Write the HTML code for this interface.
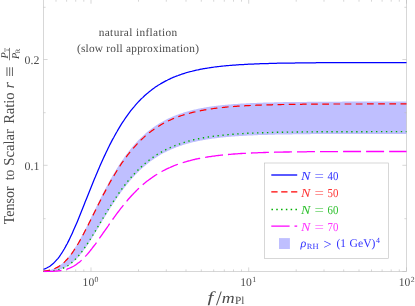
<!DOCTYPE html>
<html><head><meta charset="utf-8"><title>natural inflation</title>
<style>
html,body{margin:0;padding:0;background:#fff;}
svg{display:block;}
text{font-family:"Liberation Serif",serif;text-rendering:geometricPrecision;}
.i{font-style:italic;}
</style></head><body>
<svg width="415" height="306" viewBox="0 0 415 306">
<rect x="0" y="0" width="415" height="306" fill="#fff"/>
<defs><clipPath id="c"><rect x="43.0" y="-0.4" width="364.2" height="272.7"/></clipPath></defs>
<g clip-path="url(#c)">
<path d="M43.5 271.0 L44.4 270.9 L45.3 270.8 L46.2 270.7 L47.1 270.5 L48.0 270.4 L49.0 270.2 L49.9 269.9 L50.8 269.7 L51.7 269.4 L52.6 269.1 L53.5 268.8 L54.4 268.4 L55.3 268.0 L56.2 267.5 L57.1 267.1 L58.1 266.5 L59.0 265.9 L59.9 265.3 L60.8 264.6 L61.7 263.9 L62.6 263.2 L63.5 262.3 L64.4 261.5 L65.3 260.5 L66.2 259.6 L67.2 258.5 L68.1 257.5 L69.0 256.3 L69.9 255.2 L70.8 253.9 L71.7 252.7 L72.6 251.4 L73.5 250.0 L74.4 248.6 L75.3 247.1 L76.3 245.7 L77.2 244.1 L78.1 242.6 L79.0 241.0 L79.9 239.3 L80.8 237.7 L81.7 236.0 L82.6 234.3 L83.5 232.5 L84.4 230.8 L85.3 229.0 L86.3 227.2 L87.2 225.4 L88.1 223.5 L89.0 221.7 L89.9 219.9 L90.8 218.0 L91.7 216.1 L92.6 214.3 L93.5 212.4 L94.4 210.6 L95.4 208.7 L96.3 206.8 L97.2 205.0 L98.1 203.2 L99.0 201.3 L99.9 199.5 L100.8 197.7 L101.7 195.9 L102.6 194.1 L103.5 192.3 L104.5 190.6 L105.4 188.8 L106.3 187.1 L107.2 185.4 L108.1 183.7 L109.0 182.1 L109.9 180.4 L110.8 178.8 L111.7 177.2 L112.6 175.6 L113.6 174.0 L114.5 172.5 L115.4 171.0 L116.3 169.5 L117.2 168.0 L118.1 166.6 L119.0 165.1 L119.9 163.7 L120.8 162.4 L121.7 161.0 L122.7 159.7 L123.6 158.4 L124.5 157.1 L125.4 155.8 L126.3 154.6 L127.2 153.4 L128.1 152.2 L129.0 151.0 L129.9 149.9 L130.8 148.8 L131.7 147.7 L132.7 146.6 L133.6 145.5 L134.5 144.5 L135.4 143.5 L136.3 142.5 L137.2 141.5 L138.1 140.5 L139.0 139.6 L139.9 138.7 L140.8 137.8 L141.8 136.9 L142.7 136.1 L143.6 135.2 L144.5 134.4 L145.4 133.6 L146.3 132.8 L147.2 132.1 L148.1 131.3 L149.0 130.6 L149.9 129.9 L150.9 129.2 L151.8 128.5 L152.7 127.8 L153.6 127.2 L154.5 126.6 L155.4 125.9 L156.3 125.3 L157.2 124.7 L158.1 124.2 L159.0 123.6 L160.0 123.0 L160.9 122.5 L161.8 122.0 L162.7 121.5 L163.6 121.0 L164.5 120.5 L165.4 120.0 L166.3 119.5 L167.2 119.1 L168.1 118.6 L169.0 118.2 L170.0 117.8 L170.9 117.4 L171.8 117.0 L172.7 116.6 L173.6 116.2 L174.5 115.8 L175.4 115.5 L176.3 115.1 L177.2 114.8 L178.1 114.4 L179.1 114.1 L180.0 113.8 L180.9 113.5 L181.8 113.2 L182.7 112.9 L183.6 112.6 L184.5 112.3 L185.4 112.0 L186.3 111.7 L187.2 111.5 L188.2 111.2 L189.1 111.0 L190.0 110.7 L190.9 110.5 L191.8 110.3 L192.7 110.0 L193.6 109.8 L194.5 109.6 L195.4 109.4 L196.3 109.2 L197.3 109.0 L198.2 108.8 L199.1 108.6 L200.0 108.4 L200.9 108.3 L201.8 108.1 L202.7 107.9 L203.6 107.7 L204.5 107.6 L205.4 107.4 L206.3 107.3 L207.3 107.1 L208.2 107.0 L209.1 106.8 L210.0 106.7 L210.9 106.6 L211.8 106.4 L212.7 106.3 L213.6 106.2 L214.5 106.1 L215.4 106.0 L216.4 105.8 L217.3 105.7 L218.2 105.6 L219.1 105.5 L220.0 105.4 L220.9 105.3 L221.8 105.2 L222.7 105.1 L223.6 105.0 L224.5 104.9 L225.5 104.8 L226.4 104.8 L227.3 104.7 L228.2 104.6 L229.1 104.5 L230.0 104.4 L230.9 104.4 L231.8 104.3 L232.7 104.2 L233.6 104.1 L234.6 104.1 L235.5 104.0 L236.4 103.9 L237.3 103.9 L238.2 103.8 L239.1 103.8 L240.0 103.7 L240.9 103.6 L241.8 103.6 L242.7 103.5 L243.7 103.5 L244.6 103.4 L245.5 103.4 L246.4 103.3 L247.3 103.3 L248.2 103.2 L249.1 103.2 L250.0 103.2 L250.9 103.1 L251.8 103.1 L252.7 103.0 L253.7 103.0 L254.6 103.0 L255.5 102.9 L256.4 102.9 L257.3 102.8 L258.2 102.8 L259.1 102.8 L260.0 102.7 L260.9 102.7 L261.8 102.7 L262.8 102.7 L263.7 102.6 L264.6 102.6 L265.5 102.6 L266.4 102.5 L267.3 102.5 L268.2 102.5 L269.1 102.5 L270.0 102.4 L270.9 102.4 L271.9 102.4 L272.8 102.4 L273.7 102.4 L274.6 102.3 L275.5 102.3 L276.4 102.3 L277.3 102.3 L278.2 102.3 L279.1 102.2 L280.0 102.2 L281.0 102.2 L281.9 102.2 L282.8 102.2 L283.7 102.1 L284.6 102.1 L285.5 102.1 L286.4 102.1 L287.3 102.1 L288.2 102.1 L289.1 102.1 L290.0 102.0 L291.0 102.0 L291.9 102.0 L292.8 102.0 L293.7 102.0 L294.6 102.0 L295.5 102.0 L296.4 102.0 L297.3 101.9 L298.2 101.9 L299.1 101.9 L300.1 101.9 L301.0 101.9 L301.9 101.9 L302.8 101.9 L303.7 101.9 L304.6 101.9 L305.5 101.9 L306.4 101.9 L307.3 101.8 L308.2 101.8 L309.2 101.8 L310.1 101.8 L311.0 101.8 L311.9 101.8 L312.8 101.8 L313.7 101.8 L314.6 101.8 L315.5 101.8 L316.4 101.8 L317.3 101.8 L318.3 101.8 L319.2 101.8 L320.1 101.7 L321.0 101.7 L321.9 101.7 L322.8 101.7 L323.7 101.7 L324.6 101.7 L325.5 101.7 L326.4 101.7 L327.3 101.7 L328.3 101.7 L329.2 101.7 L330.1 101.7 L331.0 101.7 L331.9 101.7 L332.8 101.7 L333.7 101.7 L334.6 101.7 L335.5 101.7 L336.4 101.7 L337.4 101.7 L338.3 101.7 L339.2 101.7 L340.1 101.7 L341.0 101.7 L341.9 101.7 L342.8 101.6 L343.7 101.6 L344.6 101.6 L345.5 101.6 L346.5 101.6 L347.4 101.6 L348.3 101.6 L349.2 101.6 L350.1 101.6 L351.0 101.6 L351.9 101.6 L352.8 101.6 L353.7 101.6 L354.6 101.6 L355.6 101.6 L356.5 101.6 L357.4 101.6 L358.3 101.6 L359.2 101.6 L360.1 101.6 L361.0 101.6 L361.9 101.6 L362.8 101.6 L363.7 101.6 L364.7 101.6 L365.6 101.6 L366.5 101.6 L367.4 101.6 L368.3 101.6 L369.2 101.6 L370.1 101.6 L371.0 101.6 L371.9 101.6 L372.8 101.6 L373.7 101.6 L374.7 101.6 L375.6 101.6 L376.5 101.6 L377.4 101.6 L378.3 101.6 L379.2 101.6 L380.1 101.6 L381.0 101.6 L381.9 101.6 L382.8 101.6 L383.8 101.6 L384.7 101.6 L385.6 101.6 L386.5 101.6 L387.4 101.6 L388.3 101.6 L389.2 101.6 L390.1 101.6 L391.0 101.6 L391.9 101.6 L392.9 101.6 L393.8 101.6 L394.7 101.6 L395.6 101.6 L396.5 101.6 L397.4 101.6 L398.3 101.6 L399.2 101.6 L400.1 101.6 L401.0 101.6 L402.0 101.6 L402.9 101.6 L403.8 101.6 L404.7 101.6 L405.6 101.6 L406.5 101.6 L406.5 133.9 L405.6 133.9 L404.7 133.9 L403.8 133.9 L402.9 133.9 L402.0 133.9 L401.0 133.9 L400.1 133.9 L399.2 133.9 L398.3 133.9 L397.4 133.9 L396.5 133.9 L395.6 133.9 L394.7 133.9 L393.8 133.9 L392.9 133.9 L391.9 133.9 L391.0 133.9 L390.1 133.9 L389.2 133.9 L388.3 133.9 L387.4 133.9 L386.5 133.9 L385.6 133.9 L384.7 133.9 L383.8 133.9 L382.8 133.9 L381.9 133.9 L381.0 133.9 L380.1 133.9 L379.2 133.9 L378.3 133.9 L377.4 133.9 L376.5 133.9 L375.6 133.9 L374.7 133.9 L373.7 133.9 L372.8 133.9 L371.9 133.9 L371.0 133.9 L370.1 133.9 L369.2 133.9 L368.3 133.9 L367.4 133.9 L366.5 133.9 L365.6 133.9 L364.7 133.9 L363.7 133.9 L362.8 133.9 L361.9 133.9 L361.0 133.9 L360.1 133.9 L359.2 133.9 L358.3 133.9 L357.4 133.9 L356.5 133.9 L355.6 133.9 L354.6 134.0 L353.7 134.0 L352.8 134.0 L351.9 134.0 L351.0 134.0 L350.1 134.0 L349.2 134.0 L348.3 134.0 L347.4 134.0 L346.5 134.0 L345.5 134.0 L344.6 134.0 L343.7 134.0 L342.8 134.0 L341.9 134.0 L341.0 134.0 L340.1 134.0 L339.2 134.0 L338.3 134.0 L337.4 134.0 L336.4 134.0 L335.5 134.0 L334.6 134.0 L333.7 134.0 L332.8 134.0 L331.9 134.0 L331.0 134.0 L330.1 134.0 L329.2 134.0 L328.3 134.0 L327.3 134.0 L326.4 134.0 L325.5 134.1 L324.6 134.1 L323.7 134.1 L322.8 134.1 L321.9 134.1 L321.0 134.1 L320.1 134.1 L319.2 134.1 L318.3 134.1 L317.3 134.1 L316.4 134.1 L315.5 134.1 L314.6 134.1 L313.7 134.1 L312.8 134.1 L311.9 134.1 L311.0 134.1 L310.1 134.2 L309.2 134.2 L308.2 134.2 L307.3 134.2 L306.4 134.2 L305.5 134.2 L304.6 134.2 L303.7 134.2 L302.8 134.2 L301.9 134.2 L301.0 134.2 L300.1 134.3 L299.1 134.3 L298.2 134.3 L297.3 134.3 L296.4 134.3 L295.5 134.3 L294.6 134.3 L293.7 134.3 L292.8 134.3 L291.9 134.4 L291.0 134.4 L290.0 134.4 L289.1 134.4 L288.2 134.4 L287.3 134.4 L286.4 134.4 L285.5 134.4 L284.6 134.5 L283.7 134.5 L282.8 134.5 L281.9 134.5 L281.0 134.5 L280.0 134.5 L279.1 134.6 L278.2 134.6 L277.3 134.6 L276.4 134.6 L275.5 134.6 L274.6 134.7 L273.7 134.7 L272.8 134.7 L271.9 134.7 L270.9 134.8 L270.0 134.8 L269.1 134.8 L268.2 134.8 L267.3 134.9 L266.4 134.9 L265.5 134.9 L264.6 134.9 L263.7 135.0 L262.8 135.0 L261.8 135.0 L260.9 135.1 L260.0 135.1 L259.1 135.1 L258.2 135.1 L257.3 135.2 L256.4 135.2 L255.5 135.3 L254.6 135.3 L253.7 135.3 L252.7 135.4 L251.8 135.4 L250.9 135.4 L250.0 135.5 L249.1 135.5 L248.2 135.6 L247.3 135.6 L246.4 135.7 L245.5 135.7 L244.6 135.8 L243.7 135.8 L242.7 135.9 L241.8 135.9 L240.9 136.0 L240.0 136.0 L239.1 136.1 L238.2 136.2 L237.3 136.2 L236.4 136.3 L235.5 136.3 L234.6 136.4 L233.6 136.5 L232.7 136.5 L231.8 136.6 L230.9 136.7 L230.0 136.8 L229.1 136.8 L228.2 136.9 L227.3 137.0 L226.4 137.1 L225.5 137.2 L224.5 137.3 L223.6 137.3 L222.7 137.4 L221.8 137.5 L220.9 137.6 L220.0 137.7 L219.1 137.8 L218.2 137.9 L217.3 138.1 L216.4 138.2 L215.4 138.3 L214.5 138.4 L213.6 138.5 L212.7 138.6 L211.8 138.8 L210.9 138.9 L210.0 139.0 L209.1 139.2 L208.2 139.3 L207.3 139.4 L206.3 139.6 L205.4 139.7 L204.5 139.9 L203.6 140.1 L202.7 140.2 L201.8 140.4 L200.9 140.6 L200.0 140.7 L199.1 140.9 L198.2 141.1 L197.3 141.3 L196.3 141.5 L195.4 141.7 L194.5 141.9 L193.6 142.1 L192.7 142.3 L191.8 142.6 L190.9 142.8 L190.0 143.0 L189.1 143.3 L188.2 143.5 L187.2 143.8 L186.3 144.0 L185.4 144.3 L184.5 144.6 L183.6 144.8 L182.7 145.1 L181.8 145.4 L180.9 145.7 L180.0 146.0 L179.1 146.3 L178.1 146.7 L177.2 147.0 L176.3 147.3 L175.4 147.7 L174.5 148.1 L173.6 148.4 L172.7 148.8 L171.8 149.2 L170.9 149.6 L170.0 150.0 L169.0 150.4 L168.1 150.8 L167.2 151.3 L166.3 151.7 L165.4 152.2 L164.5 152.6 L163.6 153.1 L162.7 153.6 L161.8 154.1 L160.9 154.6 L160.0 155.1 L159.0 155.7 L158.1 156.2 L157.2 156.8 L156.3 157.4 L155.4 158.0 L154.5 158.6 L153.6 159.2 L152.7 159.8 L151.8 160.5 L150.9 161.1 L149.9 161.8 L149.0 162.5 L148.1 163.2 L147.2 163.9 L146.3 164.7 L145.4 165.4 L144.5 166.2 L143.6 167.0 L142.7 167.8 L141.8 168.6 L140.8 169.4 L139.9 170.3 L139.0 171.2 L138.1 172.1 L137.2 173.0 L136.3 173.9 L135.4 174.8 L134.5 175.8 L133.6 176.8 L132.7 177.8 L131.7 178.8 L130.8 179.8 L129.9 180.9 L129.0 182.0 L128.1 183.1 L127.2 184.2 L126.3 185.3 L125.4 186.5 L124.5 187.6 L123.6 188.8 L122.7 190.0 L121.7 191.3 L120.8 192.5 L119.9 193.8 L119.0 195.1 L118.1 196.4 L117.2 197.7 L116.3 199.0 L115.4 200.4 L114.5 201.7 L113.6 203.1 L112.6 204.5 L111.7 205.9 L110.8 207.3 L109.9 208.8 L109.0 210.2 L108.1 211.7 L107.2 213.1 L106.3 214.6 L105.4 216.1 L104.5 217.6 L103.5 219.1 L102.6 220.6 L101.7 222.1 L100.8 223.6 L99.9 225.1 L99.0 226.6 L98.1 228.1 L97.2 229.6 L96.3 231.1 L95.4 232.6 L94.4 234.1 L93.5 235.5 L92.6 237.0 L91.7 238.4 L90.8 239.9 L89.9 241.3 L89.0 242.7 L88.1 244.0 L87.2 245.4 L86.3 246.7 L85.3 248.0 L84.4 249.3 L83.5 250.5 L82.6 251.7 L81.7 252.9 L80.8 254.0 L79.9 255.1 L79.0 256.2 L78.1 257.2 L77.2 258.2 L76.3 259.2 L75.3 260.1 L74.4 261.0 L73.5 261.8 L72.6 262.6 L71.7 263.3 L70.8 264.0 L69.9 264.7 L69.0 265.3 L68.1 265.9 L67.2 266.5 L66.2 267.0 L65.3 267.4 L64.4 267.9 L63.5 268.3 L62.6 268.6 L61.7 269.0 L60.8 269.3 L59.9 269.6 L59.0 269.8 L58.1 270.0 L57.1 270.2 L56.2 270.4 L55.3 270.6 L54.4 270.7 L53.5 270.8 L52.6 270.9 L51.7 271.0 L50.8 271.1 L49.9 271.2 L49.0 271.2 L48.0 271.3 L47.1 271.3 L46.2 271.4 L45.3 271.4 L44.4 271.4 L43.5 271.4 Z" fill="#bfbfff" stroke="none"/>
</g>
<g fill="none" stroke="#bcbcbc" stroke-width="0.6">
<rect x="43.5" y="-0.4" width="363.0" height="271.9"/>
<path d="M56.0 271.5 v-2.1 M56.0 -0.4 v2.1 M66.6 271.5 v-2.1 M66.6 -0.4 v2.1 M75.7 271.5 v-2.1 M75.7 -0.4 v2.1 M83.8 271.5 v-2.1 M83.8 -0.4 v2.1 M138.5 271.5 v-2.1 M138.5 -0.4 v2.1 M166.3 271.5 v-2.1 M166.3 -0.4 v2.1 M186.0 271.5 v-2.1 M186.0 -0.4 v2.1 M201.3 271.5 v-2.1 M201.3 -0.4 v2.1 M213.7 271.5 v-2.1 M213.7 -0.4 v2.1 M224.3 271.5 v-2.1 M224.3 -0.4 v2.1 M233.5 271.5 v-2.1 M233.5 -0.4 v2.1 M241.5 271.5 v-2.1 M241.5 -0.4 v2.1 M296.2 271.5 v-2.1 M296.2 -0.4 v2.1 M324.0 271.5 v-2.1 M324.0 -0.4 v2.1 M343.7 271.5 v-2.1 M343.7 -0.4 v2.1 M359.0 271.5 v-2.1 M359.0 -0.4 v2.1 M371.5 271.5 v-2.1 M371.5 -0.4 v2.1 M382.1 271.5 v-2.1 M382.1 -0.4 v2.1 M391.2 271.5 v-2.1 M391.2 -0.4 v2.1 M399.3 271.5 v-2.1 M399.3 -0.4 v2.1 M91.0 271.5 v-4.1 M91.0 -0.4 v4.1 M248.7 271.5 v-4.1 M248.7 -0.4 v4.1 M406.5 271.5 v-4.1 M406.5 -0.4 v4.1 M43.5 218.7 h2.1 M406.5 218.7 h-2.1 M43.5 112.7 h2.1 M406.5 112.7 h-2.1 M43.5 7.3 h2.1 M406.5 7.3 h-2.1 M43.5 271.5 h4.1 M406.5 271.5 h-4.1 M43.5 165.3 h4.1 M406.5 165.3 h-4.1 M43.5 59.5 h4.1 M406.5 59.5 h-4.1"/>
</g>
<g clip-path="url(#c)">
<path d="M43.5 269.4 L44.4 269.0 L45.3 268.7 L46.2 268.2 L47.1 267.8 L48.0 267.3 L49.0 266.8 L49.9 266.2 L50.8 265.5 L51.7 264.8 L52.6 264.1 L53.5 263.2 L54.4 262.4 L55.3 261.4 L56.2 260.4 L57.1 259.4 L58.1 258.3 L59.0 257.1 L59.9 255.8 L60.8 254.5 L61.7 253.2 L62.6 251.7 L63.5 250.2 L64.4 248.7 L65.3 247.1 L66.2 245.4 L67.2 243.7 L68.1 241.9 L69.0 240.1 L69.9 238.2 L70.8 236.3 L71.7 234.4 L72.6 232.4 L73.5 230.3 L74.4 228.3 L75.3 226.2 L76.3 224.0 L77.2 221.9 L78.1 219.7 L79.0 217.5 L79.9 215.3 L80.8 213.0 L81.7 210.8 L82.6 208.5 L83.5 206.2 L84.4 203.9 L85.3 201.6 L86.3 199.3 L87.2 197.1 L88.1 194.8 L89.0 192.5 L89.9 190.2 L90.8 187.9 L91.7 185.7 L92.6 183.4 L93.5 181.2 L94.4 179.0 L95.4 176.8 L96.3 174.6 L97.2 172.5 L98.1 170.3 L99.0 168.2 L99.9 166.1 L100.8 164.0 L101.7 162.0 L102.6 159.9 L103.5 157.9 L104.5 155.9 L105.4 154.0 L106.3 152.1 L107.2 150.2 L108.1 148.3 L109.0 146.5 L109.9 144.6 L110.8 142.9 L111.7 141.1 L112.6 139.4 L113.6 137.7 L114.5 136.0 L115.4 134.4 L116.3 132.7 L117.2 131.2 L118.1 129.6 L119.0 128.1 L119.9 126.6 L120.8 125.1 L121.7 123.7 L122.7 122.2 L123.6 120.9 L124.5 119.5 L125.4 118.2 L126.3 116.9 L127.2 115.6 L128.1 114.3 L129.0 113.1 L129.9 111.9 L130.8 110.7 L131.7 109.6 L132.7 108.4 L133.6 107.3 L134.5 106.3 L135.4 105.2 L136.3 104.2 L137.2 103.2 L138.1 102.2 L139.0 101.2 L139.9 100.3 L140.8 99.3 L141.8 98.4 L142.7 97.6 L143.6 96.7 L144.5 95.8 L145.4 95.0 L146.3 94.2 L147.2 93.4 L148.1 92.7 L149.0 91.9 L149.9 91.2 L150.9 90.5 L151.8 89.8 L152.7 89.1 L153.6 88.4 L154.5 87.8 L155.4 87.1 L156.3 86.5 L157.2 85.9 L158.1 85.3 L159.0 84.8 L160.0 84.2 L160.9 83.6 L161.8 83.1 L162.7 82.6 L163.6 82.1 L164.5 81.6 L165.4 81.1 L166.3 80.6 L167.2 80.2 L168.1 79.7 L169.0 79.3 L170.0 78.9 L170.9 78.4 L171.8 78.0 L172.7 77.6 L173.6 77.2 L174.5 76.9 L175.4 76.5 L176.3 76.1 L177.2 75.8 L178.1 75.5 L179.1 75.1 L180.0 74.8 L180.9 74.5 L181.8 74.2 L182.7 73.9 L183.6 73.6 L184.5 73.3 L185.4 73.0 L186.3 72.7 L187.2 72.5 L188.2 72.2 L189.1 72.0 L190.0 71.7 L190.9 71.5 L191.8 71.3 L192.7 71.0 L193.6 70.8 L194.5 70.6 L195.4 70.4 L196.3 70.2 L197.3 70.0 L198.2 69.8 L199.1 69.6 L200.0 69.4 L200.9 69.2 L201.8 69.1 L202.7 68.9 L203.6 68.7 L204.5 68.6 L205.4 68.4 L206.3 68.3 L207.3 68.1 L208.2 68.0 L209.1 67.8 L210.0 67.7 L210.9 67.6 L211.8 67.4 L212.7 67.3 L213.6 67.2 L214.5 67.0 L215.4 66.9 L216.4 66.8 L217.3 66.7 L218.2 66.6 L219.1 66.5 L220.0 66.4 L220.9 66.3 L221.8 66.2 L222.7 66.1 L223.6 66.0 L224.5 65.9 L225.5 65.8 L226.4 65.7 L227.3 65.6 L228.2 65.6 L229.1 65.5 L230.0 65.4 L230.9 65.3 L231.8 65.3 L232.7 65.2 L233.6 65.1 L234.6 65.0 L235.5 65.0 L236.4 64.9 L237.3 64.9 L238.2 64.8 L239.1 64.7 L240.0 64.7 L240.9 64.6 L241.8 64.6 L242.7 64.5 L243.7 64.5 L244.6 64.4 L245.5 64.4 L246.4 64.3 L247.3 64.3 L248.2 64.2 L249.1 64.2 L250.0 64.1 L250.9 64.1 L251.8 64.0 L252.7 64.0 L253.7 64.0 L254.6 63.9 L255.5 63.9 L256.4 63.9 L257.3 63.8 L258.2 63.8 L259.1 63.8 L260.0 63.7 L260.9 63.7 L261.8 63.7 L262.8 63.6 L263.7 63.6 L264.6 63.6 L265.5 63.5 L266.4 63.5 L267.3 63.5 L268.2 63.5 L269.1 63.4 L270.0 63.4 L270.9 63.4 L271.9 63.4 L272.8 63.3 L273.7 63.3 L274.6 63.3 L275.5 63.3 L276.4 63.3 L277.3 63.2 L278.2 63.2 L279.1 63.2 L280.0 63.2 L281.0 63.2 L281.9 63.2 L282.8 63.1 L283.7 63.1 L284.6 63.1 L285.5 63.1 L286.4 63.1 L287.3 63.1 L288.2 63.0 L289.1 63.0 L290.0 63.0 L291.0 63.0 L291.9 63.0 L292.8 63.0 L293.7 63.0 L294.6 63.0 L295.5 62.9 L296.4 62.9 L297.3 62.9 L298.2 62.9 L299.1 62.9 L300.1 62.9 L301.0 62.9 L301.9 62.9 L302.8 62.9 L303.7 62.9 L304.6 62.8 L305.5 62.8 L306.4 62.8 L307.3 62.8 L308.2 62.8 L309.2 62.8 L310.1 62.8 L311.0 62.8 L311.9 62.8 L312.8 62.8 L313.7 62.8 L314.6 62.8 L315.5 62.8 L316.4 62.7 L317.3 62.7 L318.3 62.7 L319.2 62.7 L320.1 62.7 L321.0 62.7 L321.9 62.7 L322.8 62.7 L323.7 62.7 L324.6 62.7 L325.5 62.7 L326.4 62.7 L327.3 62.7 L328.3 62.7 L329.2 62.7 L330.1 62.7 L331.0 62.7 L331.9 62.7 L332.8 62.7 L333.7 62.7 L334.6 62.6 L335.5 62.6 L336.4 62.6 L337.4 62.6 L338.3 62.6 L339.2 62.6 L340.1 62.6 L341.0 62.6 L341.9 62.6 L342.8 62.6 L343.7 62.6 L344.6 62.6 L345.5 62.6 L346.5 62.6 L347.4 62.6 L348.3 62.6 L349.2 62.6 L350.1 62.6 L351.0 62.6 L351.9 62.6 L352.8 62.6 L353.7 62.6 L354.6 62.6 L355.6 62.6 L356.5 62.6 L357.4 62.6 L358.3 62.6 L359.2 62.6 L360.1 62.6 L361.0 62.6 L361.9 62.6 L362.8 62.6 L363.7 62.6 L364.7 62.6 L365.6 62.6 L366.5 62.6 L367.4 62.6 L368.3 62.6 L369.2 62.6 L370.1 62.6 L371.0 62.6 L371.9 62.6 L372.8 62.6 L373.7 62.6 L374.7 62.6 L375.6 62.6 L376.5 62.6 L377.4 62.6 L378.3 62.6 L379.2 62.5 L380.1 62.5 L381.0 62.5 L381.9 62.5 L382.8 62.5 L383.8 62.5 L384.7 62.5 L385.6 62.5 L386.5 62.5 L387.4 62.5 L388.3 62.5 L389.2 62.5 L390.1 62.5 L391.0 62.5 L391.9 62.5 L392.9 62.5 L393.8 62.5 L394.7 62.5 L395.6 62.5 L396.5 62.5 L397.4 62.5 L398.3 62.5 L399.2 62.5 L400.1 62.5 L401.0 62.5 L402.0 62.5 L402.9 62.5 L403.8 62.5 L404.7 62.5 L405.6 62.5 L406.5 62.5" fill="none" stroke="#0000ff" stroke-width="1.25"/>
<path d="M43.5 271.1 L44.4 271.0 L45.3 270.9 L46.2 270.8 L47.1 270.6 L48.0 270.5 L49.0 270.3 L49.9 270.1 L50.8 269.9 L51.7 269.6 L52.6 269.3 L53.5 269.0 L54.4 268.6 L55.3 268.3 L56.2 267.8 L57.1 267.4 L58.1 266.9 L59.0 266.3 L59.9 265.7 L60.8 265.1 L61.7 264.4 L62.6 263.7 L63.5 262.9 L64.4 262.1 L65.3 261.2 L66.2 260.2 L67.2 259.3 L68.1 258.2 L69.0 257.1 L69.9 256.0 L70.8 254.8 L71.7 253.6 L72.6 252.3 L73.5 251.0 L74.4 249.6 L75.3 248.2 L76.3 246.8 L77.2 245.3 L78.1 243.8 L79.0 242.2 L79.9 240.6 L80.8 239.0 L81.7 237.4 L82.6 235.7 L83.5 234.0 L84.4 232.2 L85.3 230.5 L86.3 228.7 L87.2 226.9 L88.1 225.2 L89.0 223.3 L89.9 221.5 L90.8 219.7 L91.7 217.9 L92.6 216.0 L93.5 214.2 L94.4 212.4 L95.4 210.5 L96.3 208.7 L97.2 206.9 L98.1 205.1 L99.0 203.2 L99.9 201.4 L100.8 199.7 L101.7 197.9 L102.6 196.1 L103.5 194.3 L104.5 192.6 L105.4 190.9 L106.3 189.2 L107.2 187.5 L108.1 185.8 L109.0 184.2 L109.9 182.5 L110.8 180.9 L111.7 179.3 L112.6 177.7 L113.6 176.2 L114.5 174.7 L115.4 173.2 L116.3 171.7 L117.2 170.2 L118.1 168.8 L119.0 167.4 L119.9 166.0 L120.8 164.6 L121.7 163.2 L122.7 161.9 L123.6 160.6 L124.5 159.3 L125.4 158.1 L126.3 156.9 L127.2 155.6 L128.1 154.5 L129.0 153.3 L129.9 152.2 L130.8 151.0 L131.7 149.9 L132.7 148.9 L133.6 147.8 L134.5 146.8 L135.4 145.8 L136.3 144.8 L137.2 143.8 L138.1 142.9 L139.0 141.9 L139.9 141.0 L140.8 140.1 L141.8 139.2 L142.7 138.4 L143.6 137.6 L144.5 136.7 L145.4 135.9 L146.3 135.2 L147.2 134.4 L148.1 133.7 L149.0 132.9 L149.9 132.2 L150.9 131.5 L151.8 130.8 L152.7 130.2 L153.6 129.5 L154.5 128.9 L155.4 128.3 L156.3 127.7 L157.2 127.1 L158.1 126.5 L159.0 125.9 L160.0 125.4 L160.9 124.8 L161.8 124.3 L162.7 123.8 L163.6 123.3 L164.5 122.8 L165.4 122.3 L166.3 121.9 L167.2 121.4 L168.1 121.0 L169.0 120.5 L170.0 120.1 L170.9 119.7 L171.8 119.3 L172.7 118.9 L173.6 118.5 L174.5 118.2 L175.4 117.8 L176.3 117.5 L177.2 117.1 L178.1 116.8 L179.1 116.4 L180.0 116.1 L180.9 115.8 L181.8 115.5 L182.7 115.2 L183.6 114.9 L184.5 114.6 L185.4 114.4 L186.3 114.1 L187.2 113.8 L188.2 113.6 L189.1 113.3 L190.0 113.1 L190.9 112.8 L191.8 112.6 L192.7 112.4 L193.6 112.2 L194.5 112.0 L195.4 111.8 L196.3 111.5 L197.3 111.4 L198.2 111.2 L199.1 111.0 L200.0 110.8 L200.9 110.6 L201.8 110.4 L202.7 110.3 L203.6 110.1 L204.5 109.9 L205.4 109.8 L206.3 109.6 L207.3 109.5 L208.2 109.3 L209.1 109.2 L210.0 109.1 L210.9 108.9 L211.8 108.8 L212.7 108.7 L213.6 108.5 L214.5 108.4 L215.4 108.3 L216.4 108.2 L217.3 108.1 L218.2 108.0 L219.1 107.9 L220.0 107.8 L220.9 107.7 L221.8 107.6 L222.7 107.5 L223.6 107.4 L224.5 107.3 L225.5 107.2 L226.4 107.1 L227.3 107.0 L228.2 106.9 L229.1 106.9 L230.0 106.8 L230.9 106.7 L231.8 106.6 L232.7 106.6 L233.6 106.5 L234.6 106.4 L235.5 106.4 L236.4 106.3 L237.3 106.2 L238.2 106.2 L239.1 106.1 L240.0 106.1 L240.9 106.0 L241.8 105.9 L242.7 105.9 L243.7 105.8 L244.6 105.8 L245.5 105.7 L246.4 105.7 L247.3 105.6 L248.2 105.6 L249.1 105.6 L250.0 105.5 L250.9 105.5 L251.8 105.4 L252.7 105.4 L253.7 105.4 L254.6 105.3 L255.5 105.3 L256.4 105.2 L257.3 105.2 L258.2 105.2 L259.1 105.1 L260.0 105.1 L260.9 105.1 L261.8 105.0 L262.8 105.0 L263.7 105.0 L264.6 105.0 L265.5 104.9 L266.4 104.9 L267.3 104.9 L268.2 104.8 L269.1 104.8 L270.0 104.8 L270.9 104.8 L271.9 104.8 L272.8 104.7 L273.7 104.7 L274.6 104.7 L275.5 104.7 L276.4 104.6 L277.3 104.6 L278.2 104.6 L279.1 104.6 L280.0 104.6 L281.0 104.6 L281.9 104.5 L282.8 104.5 L283.7 104.5 L284.6 104.5 L285.5 104.5 L286.4 104.5 L287.3 104.4 L288.2 104.4 L289.1 104.4 L290.0 104.4 L291.0 104.4 L291.9 104.4 L292.8 104.4 L293.7 104.3 L294.6 104.3 L295.5 104.3 L296.4 104.3 L297.3 104.3 L298.2 104.3 L299.1 104.3 L300.1 104.3 L301.0 104.3 L301.9 104.3 L302.8 104.2 L303.7 104.2 L304.6 104.2 L305.5 104.2 L306.4 104.2 L307.3 104.2 L308.2 104.2 L309.2 104.2 L310.1 104.2 L311.0 104.2 L311.9 104.2 L312.8 104.2 L313.7 104.1 L314.6 104.1 L315.5 104.1 L316.4 104.1 L317.3 104.1 L318.3 104.1 L319.2 104.1 L320.1 104.1 L321.0 104.1 L321.9 104.1 L322.8 104.1 L323.7 104.1 L324.6 104.1 L325.5 104.1 L326.4 104.1 L327.3 104.1 L328.3 104.1 L329.2 104.1 L330.1 104.1 L331.0 104.0 L331.9 104.0 L332.8 104.0 L333.7 104.0 L334.6 104.0 L335.5 104.0 L336.4 104.0 L337.4 104.0 L338.3 104.0 L339.2 104.0 L340.1 104.0 L341.0 104.0 L341.9 104.0 L342.8 104.0 L343.7 104.0 L344.6 104.0 L345.5 104.0 L346.5 104.0 L347.4 104.0 L348.3 104.0 L349.2 104.0 L350.1 104.0 L351.0 104.0 L351.9 104.0 L352.8 104.0 L353.7 104.0 L354.6 104.0 L355.6 104.0 L356.5 104.0 L357.4 104.0 L358.3 104.0 L359.2 104.0 L360.1 104.0 L361.0 104.0 L361.9 104.0 L362.8 104.0 L363.7 104.0 L364.7 104.0 L365.6 104.0 L366.5 104.0 L367.4 103.9 L368.3 103.9 L369.2 103.9 L370.1 103.9 L371.0 103.9 L371.9 103.9 L372.8 103.9 L373.7 103.9 L374.7 103.9 L375.6 103.9 L376.5 103.9 L377.4 103.9 L378.3 103.9 L379.2 103.9 L380.1 103.9 L381.0 103.9 L381.9 103.9 L382.8 103.9 L383.8 103.9 L384.7 103.9 L385.6 103.9 L386.5 103.9 L387.4 103.9 L388.3 103.9 L389.2 103.9 L390.1 103.9 L391.0 103.9 L391.9 103.9 L392.9 103.9 L393.8 103.9 L394.7 103.9 L395.6 103.9 L396.5 103.9 L397.4 103.9 L398.3 103.9 L399.2 103.9 L400.1 103.9 L401.0 103.9 L402.0 103.9 L402.9 103.9 L403.8 103.9 L404.7 103.9 L405.6 103.9 L406.5 103.9" fill="none" stroke="#ff0000" stroke-width="1.2" stroke-dasharray="6.7 4.48"/>
<path d="M43.5 271.4 L44.4 271.4 L45.3 271.4 L46.2 271.3 L47.1 271.3 L48.0 271.2 L49.0 271.2 L49.9 271.1 L50.8 271.0 L51.7 271.0 L52.6 270.9 L53.5 270.7 L54.4 270.6 L55.3 270.5 L56.2 270.3 L57.1 270.1 L58.1 269.9 L59.0 269.6 L59.9 269.4 L60.8 269.1 L61.7 268.7 L62.6 268.4 L63.5 268.0 L64.4 267.6 L65.3 267.1 L66.2 266.6 L67.2 266.0 L68.1 265.5 L69.0 264.8 L69.9 264.2 L70.8 263.5 L71.7 262.7 L72.6 261.9 L73.5 261.1 L74.4 260.2 L75.3 259.3 L76.3 258.4 L77.2 257.4 L78.1 256.4 L79.0 255.3 L79.9 254.2 L80.8 253.0 L81.7 251.9 L82.6 250.6 L83.5 249.4 L84.4 248.1 L85.3 246.8 L86.3 245.5 L87.2 244.1 L88.1 242.7 L89.0 241.3 L89.9 239.9 L90.8 238.4 L91.7 237.0 L92.6 235.5 L93.5 234.0 L94.4 232.5 L95.4 231.0 L96.3 229.5 L97.2 228.0 L98.1 226.4 L99.0 224.9 L99.9 223.4 L100.8 221.8 L101.7 220.3 L102.6 218.8 L103.5 217.3 L104.5 215.7 L105.4 214.2 L106.3 212.7 L107.2 211.2 L108.1 209.7 L109.0 208.3 L109.9 206.8 L110.8 205.4 L111.7 203.9 L112.6 202.5 L113.6 201.1 L114.5 199.7 L115.4 198.3 L116.3 197.0 L117.2 195.6 L118.1 194.3 L119.0 193.0 L119.9 191.7 L120.8 190.4 L121.7 189.2 L122.7 187.9 L123.6 186.7 L124.5 185.5 L125.4 184.3 L126.3 183.2 L127.2 182.0 L128.1 180.9 L129.0 179.8 L129.9 178.7 L130.8 177.7 L131.7 176.6 L132.7 175.6 L133.6 174.6 L134.5 173.6 L135.4 172.6 L136.3 171.7 L137.2 170.8 L138.1 169.9 L139.0 169.0 L139.9 168.1 L140.8 167.2 L141.8 166.4 L142.7 165.6 L143.6 164.8 L144.5 164.0 L145.4 163.2 L146.3 162.4 L147.2 161.7 L148.1 161.0 L149.0 160.3 L149.9 159.6 L150.9 158.9 L151.8 158.2 L152.7 157.6 L153.6 156.9 L154.5 156.3 L155.4 155.7 L156.3 155.1 L157.2 154.5 L158.1 154.0 L159.0 153.4 L160.0 152.9 L160.9 152.4 L161.8 151.8 L162.7 151.3 L163.6 150.8 L164.5 150.4 L165.4 149.9 L166.3 149.4 L167.2 149.0 L168.1 148.6 L169.0 148.1 L170.0 147.7 L170.9 147.3 L171.8 146.9 L172.7 146.5 L173.6 146.2 L174.5 145.8 L175.4 145.4 L176.3 145.1 L177.2 144.7 L178.1 144.4 L179.1 144.1 L180.0 143.8 L180.9 143.5 L181.8 143.2 L182.7 142.9 L183.6 142.6 L184.5 142.3 L185.4 142.0 L186.3 141.8 L187.2 141.5 L188.2 141.2 L189.1 141.0 L190.0 140.8 L190.9 140.5 L191.8 140.3 L192.7 140.1 L193.6 139.8 L194.5 139.6 L195.4 139.4 L196.3 139.2 L197.3 139.0 L198.2 138.8 L199.1 138.7 L200.0 138.5 L200.9 138.3 L201.8 138.1 L202.7 138.0 L203.6 137.8 L204.5 137.6 L205.4 137.5 L206.3 137.3 L207.3 137.2 L208.2 137.0 L209.1 136.9 L210.0 136.8 L210.9 136.6 L211.8 136.5 L212.7 136.4 L213.6 136.2 L214.5 136.1 L215.4 136.0 L216.4 135.9 L217.3 135.8 L218.2 135.7 L219.1 135.6 L220.0 135.5 L220.9 135.4 L221.8 135.3 L222.7 135.2 L223.6 135.1 L224.5 135.0 L225.5 134.9 L226.4 134.8 L227.3 134.7 L228.2 134.6 L229.1 134.6 L230.0 134.5 L230.9 134.4 L231.8 134.3 L232.7 134.3 L233.6 134.2 L234.6 134.1 L235.5 134.1 L236.4 134.0 L237.3 133.9 L238.2 133.9 L239.1 133.8 L240.0 133.8 L240.9 133.7 L241.8 133.6 L242.7 133.6 L243.7 133.5 L244.6 133.5 L245.5 133.4 L246.4 133.4 L247.3 133.3 L248.2 133.3 L249.1 133.3 L250.0 133.2 L250.9 133.2 L251.8 133.1 L252.7 133.1 L253.7 133.1 L254.6 133.0 L255.5 133.0 L256.4 132.9 L257.3 132.9 L258.2 132.9 L259.1 132.8 L260.0 132.8 L260.9 132.8 L261.8 132.7 L262.8 132.7 L263.7 132.7 L264.6 132.7 L265.5 132.6 L266.4 132.6 L267.3 132.6 L268.2 132.6 L269.1 132.5 L270.0 132.5 L270.9 132.5 L271.9 132.5 L272.8 132.4 L273.7 132.4 L274.6 132.4 L275.5 132.4 L276.4 132.3 L277.3 132.3 L278.2 132.3 L279.1 132.3 L280.0 132.3 L281.0 132.3 L281.9 132.2 L282.8 132.2 L283.7 132.2 L284.6 132.2 L285.5 132.2 L286.4 132.2 L287.3 132.1 L288.2 132.1 L289.1 132.1 L290.0 132.1 L291.0 132.1 L291.9 132.1 L292.8 132.1 L293.7 132.1 L294.6 132.0 L295.5 132.0 L296.4 132.0 L297.3 132.0 L298.2 132.0 L299.1 132.0 L300.1 132.0 L301.0 132.0 L301.9 132.0 L302.8 131.9 L303.7 131.9 L304.6 131.9 L305.5 131.9 L306.4 131.9 L307.3 131.9 L308.2 131.9 L309.2 131.9 L310.1 131.9 L311.0 131.9 L311.9 131.9 L312.8 131.9 L313.7 131.9 L314.6 131.8 L315.5 131.8 L316.4 131.8 L317.3 131.8 L318.3 131.8 L319.2 131.8 L320.1 131.8 L321.0 131.8 L321.9 131.8 L322.8 131.8 L323.7 131.8 L324.6 131.8 L325.5 131.8 L326.4 131.8 L327.3 131.8 L328.3 131.8 L329.2 131.8 L330.1 131.8 L331.0 131.8 L331.9 131.7 L332.8 131.7 L333.7 131.7 L334.6 131.7 L335.5 131.7 L336.4 131.7 L337.4 131.7 L338.3 131.7 L339.2 131.7 L340.1 131.7 L341.0 131.7 L341.9 131.7 L342.8 131.7 L343.7 131.7 L344.6 131.7 L345.5 131.7 L346.5 131.7 L347.4 131.7 L348.3 131.7 L349.2 131.7 L350.1 131.7 L351.0 131.7 L351.9 131.7 L352.8 131.7 L353.7 131.7 L354.6 131.7 L355.6 131.7 L356.5 131.7 L357.4 131.7 L358.3 131.7 L359.2 131.7 L360.1 131.7 L361.0 131.7 L361.9 131.7 L362.8 131.7 L363.7 131.7 L364.7 131.7 L365.6 131.7 L366.5 131.7 L367.4 131.7 L368.3 131.7 L369.2 131.6 L370.1 131.6 L371.0 131.6 L371.9 131.6 L372.8 131.6 L373.7 131.6 L374.7 131.6 L375.6 131.6 L376.5 131.6 L377.4 131.6 L378.3 131.6 L379.2 131.6 L380.1 131.6 L381.0 131.6 L381.9 131.6 L382.8 131.6 L383.8 131.6 L384.7 131.6 L385.6 131.6 L386.5 131.6 L387.4 131.6 L388.3 131.6 L389.2 131.6 L390.1 131.6 L391.0 131.6 L391.9 131.6 L392.9 131.6 L393.8 131.6 L394.7 131.6 L395.6 131.6 L396.5 131.6 L397.4 131.6 L398.3 131.6 L399.2 131.6 L400.1 131.6 L401.0 131.6 L402.0 131.6 L402.9 131.6 L403.8 131.6 L404.7 131.6 L405.6 131.6 L406.5 131.6" fill="none" stroke="#00b000" stroke-width="1.4" stroke-dasharray="1.4 3.56"/>
<path d="M43.5 271.5 L44.4 271.5 L45.3 271.5 L46.2 271.5 L47.1 271.4 L48.0 271.4 L49.0 271.4 L49.9 271.4 L50.8 271.4 L51.7 271.3 L52.6 271.3 L53.5 271.3 L54.4 271.2 L55.3 271.2 L56.2 271.1 L57.1 271.0 L58.1 270.9 L59.0 270.8 L59.9 270.7 L60.8 270.6 L61.7 270.4 L62.6 270.2 L63.5 270.1 L64.4 269.8 L65.3 269.6 L66.2 269.3 L67.2 269.1 L68.1 268.7 L69.0 268.4 L69.9 268.0 L70.8 267.6 L71.7 267.2 L72.6 266.7 L73.5 266.2 L74.4 265.7 L75.3 265.1 L76.3 264.5 L77.2 263.8 L78.1 263.1 L79.0 262.4 L79.9 261.7 L80.8 260.9 L81.7 260.0 L82.6 259.2 L83.5 258.3 L84.4 257.4 L85.3 256.4 L86.3 255.4 L87.2 254.4 L88.1 253.3 L89.0 252.3 L89.9 251.2 L90.8 250.0 L91.7 248.9 L92.6 247.7 L93.5 246.5 L94.4 245.3 L95.4 244.1 L96.3 242.8 L97.2 241.6 L98.1 240.3 L99.0 239.0 L99.9 237.7 L100.8 236.4 L101.7 235.1 L102.6 233.8 L103.5 232.5 L104.5 231.2 L105.4 229.9 L106.3 228.6 L107.2 227.3 L108.1 226.0 L109.0 224.6 L109.9 223.3 L110.8 222.0 L111.7 220.8 L112.6 219.5 L113.6 218.2 L114.5 216.9 L115.4 215.7 L116.3 214.4 L117.2 213.2 L118.1 212.0 L119.0 210.8 L119.9 209.6 L120.8 208.4 L121.7 207.3 L122.7 206.1 L123.6 205.0 L124.5 203.9 L125.4 202.8 L126.3 201.7 L127.2 200.6 L128.1 199.5 L129.0 198.5 L129.9 197.5 L130.8 196.5 L131.7 195.5 L132.7 194.5 L133.6 193.5 L134.5 192.6 L135.4 191.7 L136.3 190.8 L137.2 189.9 L138.1 189.0 L139.0 188.1 L139.9 187.3 L140.8 186.5 L141.8 185.7 L142.7 184.9 L143.6 184.1 L144.5 183.3 L145.4 182.6 L146.3 181.8 L147.2 181.1 L148.1 180.4 L149.0 179.7 L149.9 179.1 L150.9 178.4 L151.8 177.7 L152.7 177.1 L153.6 176.5 L154.5 175.9 L155.4 175.3 L156.3 174.7 L157.2 174.2 L158.1 173.6 L159.0 173.1 L160.0 172.5 L160.9 172.0 L161.8 171.5 L162.7 171.0 L163.6 170.5 L164.5 170.1 L165.4 169.6 L166.3 169.2 L167.2 168.7 L168.1 168.3 L169.0 167.9 L170.0 167.5 L170.9 167.1 L171.8 166.7 L172.7 166.3 L173.6 165.9 L174.5 165.5 L175.4 165.2 L176.3 164.8 L177.2 164.5 L178.1 164.2 L179.1 163.9 L180.0 163.5 L180.9 163.2 L181.8 162.9 L182.7 162.6 L183.6 162.4 L184.5 162.1 L185.4 161.8 L186.3 161.6 L187.2 161.3 L188.2 161.0 L189.1 160.8 L190.0 160.6 L190.9 160.3 L191.8 160.1 L192.7 159.9 L193.6 159.7 L194.5 159.5 L195.4 159.2 L196.3 159.0 L197.3 158.9 L198.2 158.7 L199.1 158.5 L200.0 158.3 L200.9 158.1 L201.8 158.0 L202.7 157.8 L203.6 157.6 L204.5 157.5 L205.4 157.3 L206.3 157.2 L207.3 157.0 L208.2 156.9 L209.1 156.7 L210.0 156.6 L210.9 156.5 L211.8 156.3 L212.7 156.2 L213.6 156.1 L214.5 156.0 L215.4 155.8 L216.4 155.7 L217.3 155.6 L218.2 155.5 L219.1 155.4 L220.0 155.3 L220.9 155.2 L221.8 155.1 L222.7 155.0 L223.6 154.9 L224.5 154.8 L225.5 154.7 L226.4 154.7 L227.3 154.6 L228.2 154.5 L229.1 154.4 L230.0 154.3 L230.9 154.3 L231.8 154.2 L232.7 154.1 L233.6 154.0 L234.6 154.0 L235.5 153.9 L236.4 153.8 L237.3 153.8 L238.2 153.7 L239.1 153.7 L240.0 153.6 L240.9 153.5 L241.8 153.5 L242.7 153.4 L243.7 153.4 L244.6 153.3 L245.5 153.3 L246.4 153.2 L247.3 153.2 L248.2 153.1 L249.1 153.1 L250.0 153.1 L250.9 153.0 L251.8 153.0 L252.7 152.9 L253.7 152.9 L254.6 152.9 L255.5 152.8 L256.4 152.8 L257.3 152.8 L258.2 152.7 L259.1 152.7 L260.0 152.7 L260.9 152.6 L261.8 152.6 L262.8 152.6 L263.7 152.5 L264.6 152.5 L265.5 152.5 L266.4 152.4 L267.3 152.4 L268.2 152.4 L269.1 152.4 L270.0 152.3 L270.9 152.3 L271.9 152.3 L272.8 152.3 L273.7 152.3 L274.6 152.2 L275.5 152.2 L276.4 152.2 L277.3 152.2 L278.2 152.2 L279.1 152.1 L280.0 152.1 L281.0 152.1 L281.9 152.1 L282.8 152.1 L283.7 152.0 L284.6 152.0 L285.5 152.0 L286.4 152.0 L287.3 152.0 L288.2 152.0 L289.1 152.0 L290.0 151.9 L291.0 151.9 L291.9 151.9 L292.8 151.9 L293.7 151.9 L294.6 151.9 L295.5 151.9 L296.4 151.9 L297.3 151.9 L298.2 151.8 L299.1 151.8 L300.1 151.8 L301.0 151.8 L301.9 151.8 L302.8 151.8 L303.7 151.8 L304.6 151.8 L305.5 151.8 L306.4 151.8 L307.3 151.7 L308.2 151.7 L309.2 151.7 L310.1 151.7 L311.0 151.7 L311.9 151.7 L312.8 151.7 L313.7 151.7 L314.6 151.7 L315.5 151.7 L316.4 151.7 L317.3 151.7 L318.3 151.7 L319.2 151.7 L320.1 151.7 L321.0 151.6 L321.9 151.6 L322.8 151.6 L323.7 151.6 L324.6 151.6 L325.5 151.6 L326.4 151.6 L327.3 151.6 L328.3 151.6 L329.2 151.6 L330.1 151.6 L331.0 151.6 L331.9 151.6 L332.8 151.6 L333.7 151.6 L334.6 151.6 L335.5 151.6 L336.4 151.6 L337.4 151.6 L338.3 151.6 L339.2 151.6 L340.1 151.6 L341.0 151.6 L341.9 151.6 L342.8 151.6 L343.7 151.5 L344.6 151.5 L345.5 151.5 L346.5 151.5 L347.4 151.5 L348.3 151.5 L349.2 151.5 L350.1 151.5 L351.0 151.5 L351.9 151.5 L352.8 151.5 L353.7 151.5 L354.6 151.5 L355.6 151.5 L356.5 151.5 L357.4 151.5 L358.3 151.5 L359.2 151.5 L360.1 151.5 L361.0 151.5 L361.9 151.5 L362.8 151.5 L363.7 151.5 L364.7 151.5 L365.6 151.5 L366.5 151.5 L367.4 151.5 L368.3 151.5 L369.2 151.5 L370.1 151.5 L371.0 151.5 L371.9 151.5 L372.8 151.5 L373.7 151.5 L374.7 151.5 L375.6 151.5 L376.5 151.5 L377.4 151.5 L378.3 151.5 L379.2 151.5 L380.1 151.5 L381.0 151.5 L381.9 151.5 L382.8 151.5 L383.8 151.5 L384.7 151.5 L385.6 151.5 L386.5 151.5 L387.4 151.5 L388.3 151.5 L389.2 151.5 L390.1 151.5 L391.0 151.5 L391.9 151.5 L392.9 151.5 L393.8 151.5 L394.7 151.5 L395.6 151.5 L396.5 151.5 L397.4 151.5 L398.3 151.5 L399.2 151.5 L400.1 151.5 L401.0 151.5 L402.0 151.5 L402.9 151.5 L403.8 151.5 L404.7 151.5 L405.6 151.5 L406.5 151.5" fill="none" stroke="#ff00ff" stroke-width="1.3" stroke-dasharray="18 5.05"/>
</g>
<rect x="264.5" y="163" width="124" height="95.3" fill="#fff" stroke="#bcbcbc" stroke-width="0.6"/>
<path d="M271.3 175 H297.2" stroke="#0000ff" stroke-width="1.3"/>
<path d="M271.3 191.9 H297.3" stroke="#ff0000" stroke-width="1.3" stroke-dasharray="6.3 3.6"/>
<path d="M271.45 209.4 H297.2" stroke="#00b000" stroke-width="1.5" stroke-dasharray="1.5 3.3"/>
<path d="M271.3 226.2 H297.2" stroke="#ff00ff" stroke-width="1.3" stroke-dasharray="18.3 4.9"/>
<rect x="279" y="238.1" width="10.9" height="10.9" fill="#bfbfff"/>
<g fill="#3030ff" font-size="12.2px"><text class="i" x="301" y="179.6" textLength="9.4" lengthAdjust="spacingAndGlyphs">N</text><text x="314.5" y="179.6" textLength="9.4" lengthAdjust="spacingAndGlyphs">=</text><text x="327.6" y="179.6" textLength="10.8" lengthAdjust="spacingAndGlyphs">40</text></g>
<g fill="#ff3030" font-size="12.2px"><text class="i" x="301" y="196.5" textLength="9.4" lengthAdjust="spacingAndGlyphs">N</text><text x="314.5" y="196.5" textLength="9.4" lengthAdjust="spacingAndGlyphs">=</text><text x="327.6" y="196.5" textLength="10.8" lengthAdjust="spacingAndGlyphs">50</text></g>
<g fill="#2cc02c" font-size="12.2px"><text class="i" x="301" y="213.6" textLength="9.4" lengthAdjust="spacingAndGlyphs">N</text><text x="314.5" y="213.6" textLength="9.4" lengthAdjust="spacingAndGlyphs">=</text><text x="327.6" y="213.6" textLength="10.8" lengthAdjust="spacingAndGlyphs">60</text></g>
<g fill="#ff30ff" font-size="12.2px"><text class="i" x="301" y="230.6" textLength="9.4" lengthAdjust="spacingAndGlyphs">N</text><text x="314.5" y="230.6" textLength="9.4" lengthAdjust="spacingAndGlyphs">=</text><text x="327.6" y="230.6" textLength="10.8" lengthAdjust="spacingAndGlyphs">70</text></g>
<g fill="#3030ff" font-size="11.8px"><text class="i" x="300.6" y="246.8" font-size="12px">ρ</text><text x="306.8" y="248.7" font-size="7.9px" textLength="11.8" lengthAdjust="spacingAndGlyphs">RH</text><text x="323.5" y="248.6" font-size="14.5px" textLength="8.2" lengthAdjust="spacingAndGlyphs">&gt;</text><text x="336.6" y="246.9" textLength="9.4" lengthAdjust="spacingAndGlyphs">(1</text><text x="349.6" y="246.9" textLength="25.8" lengthAdjust="spacingAndGlyphs">GeV)</text><text x="376" y="243.2" font-size="7.9px">4</text></g>
<g fill="#4c4c4c" font-size="11.3px"><text x="98.7" y="35.9" textLength="78.5" lengthAdjust="spacing">natural inflation</text><text x="76.9" y="51.6" textLength="122" lengthAdjust="spacing">(slow roll approximation)</text></g>
<g fill="#4c4c4c" font-size="11.8px">
<text x="24.6" y="64.1" textLength="14.8" lengthAdjust="spacingAndGlyphs">0.2</text>
<text x="24.6" y="169.9" textLength="15" lengthAdjust="spacingAndGlyphs">0.1</text>
<text x="82.6" y="286" textLength="11.6" lengthAdjust="spacingAndGlyphs">10</text><text x="94.5" y="281.8" font-size="7.8px">0</text>
<text x="240.3" y="286" textLength="11.6" lengthAdjust="spacingAndGlyphs">10</text><text x="252.2" y="281.8" font-size="7.8px">1</text>
<text x="398.8" y="286" textLength="11.6" lengthAdjust="spacingAndGlyphs">10</text><text x="410.7" y="281.8" font-size="7.8px">2</text>
</g>
<g fill="#4c4c4c" font-size="15.2px"><text class="i" x="207.5" y="302.4" textLength="5.9" lengthAdjust="spacingAndGlyphs">f</text><text x="216" y="305.3" font-size="20.6px">/</text><text class="i" x="221.8" y="302.5" textLength="12.9" lengthAdjust="spacingAndGlyphs">m</text><text x="235" y="304.4" font-size="11px" textLength="9.4" lengthAdjust="spacingAndGlyphs">Pl</text></g>
<g fill="#4c4c4c" font-size="15.2px" transform="translate(14.1 0) rotate(-90)">
<text x="-224.3" y="0" textLength="38.0" lengthAdjust="spacingAndGlyphs">Tensor</text>
<text x="-180.3" y="0" textLength="10.6" lengthAdjust="spacingAndGlyphs">to</text>
<text x="-165.7" y="0" textLength="36.5" lengthAdjust="spacingAndGlyphs">Scalar</text>
<text x="-123.8" y="0" textLength="31.3" lengthAdjust="spacingAndGlyphs">Ratio</text>
<text class="i" x="-88.5" y="0" textLength="6.4" lengthAdjust="spacingAndGlyphs">r</text>
<text x="-77" y="2.2" font-size="19px" fill="#606060">≡</text>
<path d="M-60.3 -4.6 H-47.9" stroke="#444" stroke-width="0.7" fill="none"/>
<g fill="#3a3a3a"><text class="i" x="-58.4" y="-6.3" font-size="10.4px">P</text><text x="-52.1" y="-5.5" font-size="6.6px">T</text>
<text class="i" x="-59.1" y="4.9" font-size="10.4px">P</text><text x="-53.3" y="6.1" font-size="6.6px">R</text></g>
</g>
</svg>
</body></html>
